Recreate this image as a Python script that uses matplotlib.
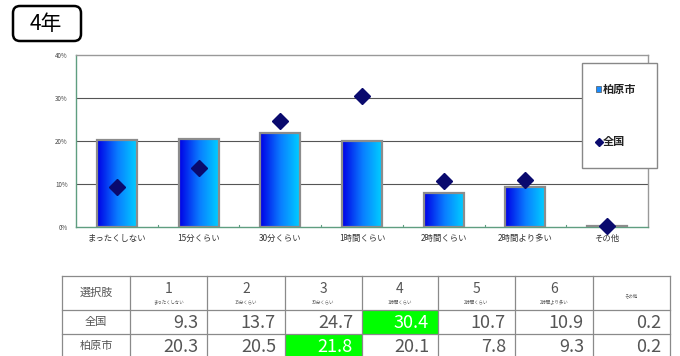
import matplotlib.pyplot as plt
import numpy as np
from matplotlib.patches import Rectangle, FancyBboxPatch
from matplotlib.colors import LinearSegmentedColormap

plt.rcParams['font.family'] = ['Noto Sans CJK JP', 'DejaVu Sans']

# 選択肢と回答割合(%)
categories = ['まったくしない', '15分くらい', '30分くらい', '1時間くらい',
              '2時間くらい', '2時間より多い', 'その他']
kashiwara = [20.3, 20.5, 21.8, 20.1, 7.8, 9.3, 0.2]
zenkoku = [9.3, 13.7, 24.7, 30.4, 10.7, 10.9, 0.2]
yticks = [0, 10, 20, 30, 40]
ytick_labels = ['0%', '10%', '20%', '30%', '40%']

W, H = 680, 356
fig = plt.figure(figsize=(W / 100, H / 100), dpi=100)

# --- グラフ ---
ax = fig.add_axes([76 / W, 1 - 227 / H, (648 - 76) / W, (227 - 55) / H])
x = np.arange(len(categories))
grad = LinearSegmentedColormap.from_list('bar', ['#0000e6', '#0a7cff', '#00d2ff'])
bars = ax.bar(x, kashiwara, width=0.49, facecolor='none', edgecolor='#8c8c8c',
              linewidth=1.6, zorder=3)
g = np.linspace(0, 1, 64).reshape(1, -1)
for b in bars:
    bx, by = b.get_x(), b.get_y()
    im = ax.imshow(g, cmap=grad, aspect='auto', zorder=2.5,
                   extent=[bx, bx + b.get_width(), by, by + b.get_height()])
    im.set_clip_path(b)
ax.plot(x, zenkoku, linestyle='none', marker='D', markersize=8,
        color='#0a0a6e', zorder=5, clip_on=False)

ax.set_xlim(-0.5, len(categories) - 0.5)
ax.set_ylim(0, 40)
ax.set_yticks(yticks)
ax.set_yticklabels(ytick_labels, fontsize=4.5, color='#444444')
ax.set_xticks(x)
ax.set_xticklabels(categories, fontsize=6, color='#333333')
ax.tick_params(axis='both', length=0, pad=6)
ax.tick_params(axis='x', pad=5)
for yv in yticks[1:-1]:
    ax.axhline(yv, color='#555555', linewidth=0.8, zorder=1)
ax.spines['left'].set_color('#5f9e80')
ax.spines['bottom'].set_color('#5f9e80')
ax.spines['top'].set_color('#999999')
ax.spines['right'].set_color('#999999')
for s in ax.spines.values():
    s.set_linewidth(1.0)
for xb in np.arange(0.5, len(categories) - 0.5, 1):
    ax.plot([xb, xb], [0, 0.4], color='#5f9e80', linewidth=0.8, zorder=4)

# 見出し・凡例・表はピクセル座標の重ね描き用軸に描く
deco = fig.add_axes([0, 0, 1, 1])
deco.set_xlim(0, W)
deco.set_ylim(H, 0)
deco.axis('off')
deco.set_zorder(10)

# --- 見出し ---
deco.add_patch(FancyBboxPatch((13, 6), 68, 35, boxstyle='round,pad=0,rounding_size=7',
                              facecolor='white', edgecolor='black', linewidth=1.8))
deco.text(46, 24, '4年', fontsize=15, ha='center', va='center', color='black')

# --- 凡例 ---
deco.add_patch(Rectangle((582, 63), 75, 105, facecolor='white',
                         edgecolor='#888888', linewidth=1.0, zorder=6))
deco.add_patch(Rectangle((596, 86), 5, 6, facecolor='#1a8cff',
                         edgecolor='#555555', linewidth=0.5, zorder=7))
deco.text(603, 89, '柏原市', fontsize=8, fontweight='bold', va='center',
          color='#222222', zorder=7)
deco.plot([598.5], [142], marker='D', markersize=4, color='#0a0a6e', zorder=7)
deco.text(603, 142, '全国', fontsize=8, fontweight='bold', va='center',
          color='#222222', zorder=7)

# --- 表 ---
col_edges = [62, 130, 207, 285, 362, 438, 515, 593, 670]
row_edges = [276, 310, 334, 358]
line_c = '#8a8a8a'
highlight = {(0, 3), (1, 2)}
rows = [('全国', zenkoku), ('柏原市', kashiwara)]
for r, (name, vals) in enumerate(rows):
    y0, y1 = row_edges[r + 1], row_edges[r + 2]
    for c, v in enumerate(vals):
        x0, x1 = col_edges[c + 1], col_edges[c + 2]
        hl = (r, c) in highlight
        if hl:
            deco.add_patch(Rectangle((x0, y0), x1 - x0, y1 - y0,
                                     facecolor='#00ff00', edgecolor='none', zorder=1))
        deco.text(x1 - 9, (y0 + y1) / 2 + 1, f'{v:.1f}', fontsize=13,
                  ha='right', va='center',
                  color='white' if hl else '#555555', zorder=3)
    deco.text((col_edges[0] + col_edges[1]) / 2, (y0 + y1) / 2, name,
              fontsize=8, ha='center', va='center', color='#555555')

deco.text((col_edges[0] + col_edges[1]) / 2, (row_edges[0] + row_edges[1]) / 2,
          '選択肢', fontsize=8, ha='center', va='center', color='#555555')
for c, cat in enumerate(categories):
    cx = (col_edges[c + 1] + col_edges[c + 2]) / 2
    if cat != 'その他':
        deco.text(cx, 289, str(c + 1), fontsize=10, ha='center', va='center',
                  color='#555555')
        deco.text(cx, 302, cat, fontsize=3.2, ha='center', va='center',
                  color='#555555')
    else:
        deco.text(cx, 296, cat, fontsize=3.2, ha='center', va='center',
                  color='#555555')

for xe in col_edges:
    deco.plot([xe, xe], [row_edges[0], row_edges[-1]], color=line_c,
              linewidth=0.9, zorder=4)
for ye in row_edges:
    deco.plot([col_edges[0], col_edges[-1]], [ye, ye], color=line_c,
              linewidth=0.9, zorder=4)

fig.savefig('out.png', dpi=100)
